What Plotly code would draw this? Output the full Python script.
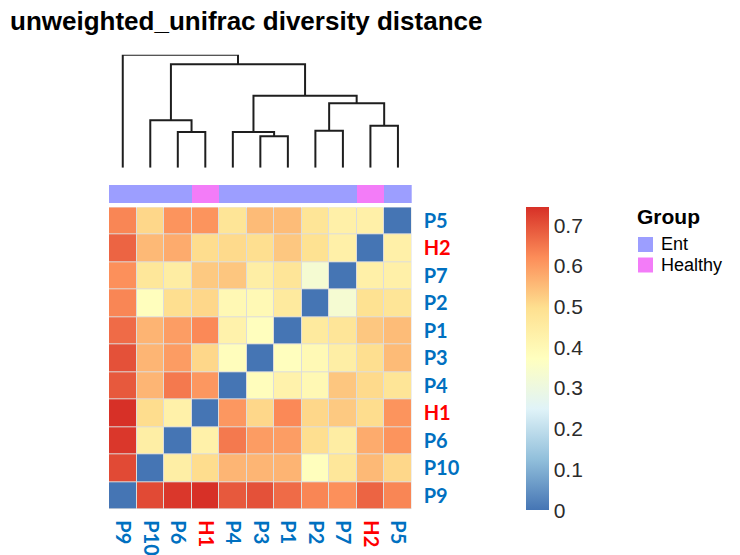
import plotly.graph_objects as go

# Samples in clustered order (columns left->right, rows bottom->top)
labels = ["P9", "P10", "P6", "H1", "P4", "P3", "P1", "P2", "P7", "H2", "P5"]
groups = ["Ent", "Ent", "Ent", "Healthy", "Ent", "Ent", "Ent", "Ent", "Ent", "Healthy", "Ent"]
group_names = ["Ent", "Healthy"]
group_colors = ["#9C9EFF", "#F37CF8"]
label_colors = {"Ent": "#0070C0", "Healthy": "#FF0000"}

# Pairwise unweighted UniFrac distances (same order as labels)
distances = [
    #  P9     P10    P6     H1     P4     P3     P1     P2     P7     H2     P5
    [0.000, 0.710, 0.735, 0.744, 0.690, 0.700, 0.665, 0.630, 0.615, 0.675, 0.630],  # P9
    [0.710, 0.000, 0.440, 0.500, 0.560, 0.560, 0.562, 0.378, 0.470, 0.555, 0.510],  # P10
    [0.735, 0.440, 0.000, 0.430, 0.647, 0.598, 0.596, 0.497, 0.445, 0.575, 0.610],  # P6
    [0.744, 0.500, 0.430, 0.000, 0.605, 0.510, 0.625, 0.510, 0.530, 0.500, 0.610],  # H1
    [0.690, 0.560, 0.647, 0.605, 0.000, 0.380, 0.425, 0.400, 0.535, 0.505, 0.478],  # P4
    [0.700, 0.560, 0.598, 0.510, 0.380, 0.000, 0.375, 0.398, 0.440, 0.497, 0.552],  # P3
    [0.665, 0.562, 0.596, 0.625, 0.425, 0.375, 0.000, 0.458, 0.475, 0.533, 0.550],  # P1
    [0.630, 0.378, 0.497, 0.510, 0.400, 0.398, 0.458, 0.000, 0.330, 0.490, 0.478],  # P2
    [0.615, 0.470, 0.445, 0.530, 0.535, 0.440, 0.475, 0.330, 0.000, 0.432, 0.432],  # P7
    [0.675, 0.555, 0.575, 0.500, 0.505, 0.497, 0.533, 0.490, 0.432, 0.000, 0.432],  # H2
    [0.630, 0.510, 0.610, 0.610, 0.478, 0.552, 0.550, 0.478, 0.432, 0.432, 0.000],  # P5
]

# Hierarchical clustering steps: nodes 0-10 are leaves, merge k creates node 11+k
link_left = [2, 5, 4, 7, 9, 1, 14, 13, 16, 0]
link_right = [3, 6, 12, 8, 10, 11, 15, 17, 18, 19]
link_height = [0.357, 0.314, 0.357, 0.370, 0.420, 0.474, 0.644, 0.720, 1.034, 1.130]

colorbar_ticks = [0, 0.1, 0.2, 0.3, 0.4, 0.5, 0.6, 0.7]

W, H = 740, 555


def fx(px):
    return px / W


def fy(py):
    return 1 - py / H


n = len(labels)
idx = list(range(n))

# RdYlBu (7 classes), reversed
scale_cols = ["#4575B4", "#91BFDB", "#E0F3F8", "#FFFFBF", "#FEE090", "#FC8D59", "#D73027"]
colorscale = [[i / (len(scale_cols) - 1), c] for i, c in enumerate(scale_cols)]
zmax = max(max(r) for r in distances)

tick_text = [
    f'<span style="color:{label_colors[g]}"><b>{lab}</b></span>' for lab, g in zip(labels, groups)
]

fig = go.Figure()

fig.add_trace(go.Heatmap(
    z=distances, x=idx, y=idx,
    colorscale=colorscale, zmin=0, zmax=zmax,
    xgap=1, ygap=1,
    xaxis="x", yaxis="y",
    hoverinfo="skip",
    colorbar=dict(
        x=fx(525.7), xanchor="left", xpad=0,
        y=fy(207.3), yanchor="top", ypad=0,
        lenmode="pixels", len=303,
        thickness=23, outlinewidth=0,
        tickvals=colorbar_ticks,
        ticktext=[f"{v:g}" for v in colorbar_ticks],
        ticks="", ticklabelposition="outside",
        tickfont=dict(family="Liberation Sans", size=21, color="#2b2b2b"),
    ),
))

# Group annotation strip above the heatmap
fig.add_trace(go.Heatmap(
    z=[[group_names.index(g) for g in groups]], x=idx, y=[0],
    colorscale=[[0, group_colors[0]], [0.5, group_colors[0]],
                [0.5, group_colors[1]], [1, group_colors[1]]],
    zmin=0, zmax=1, showscale=False,
    xaxis="x", yaxis="y2", hoverinfo="skip",
))

# Column dendrogram
node_x = {i: float(i) for i in idx}
node_h = {i: 0.0 for i in idx}
dx, dy = [], []
for k, (a, b, h) in enumerate(zip(link_left, link_right, link_height)):
    xa, xb = node_x[a], node_x[b]
    dx += [xa, xa, xb, xb, None]
    dy += [node_h[a], h, h, node_h[b], None]
    node_x[n + k] = (xa + xb) / 2
    node_h[n + k] = h

fig.add_trace(go.Scatter(
    x=dx, y=dy, mode="lines",
    line=dict(color="#1e1e1e", width=2),
    xaxis="x", yaxis="y3", hoverinfo="skip", showlegend=False,
))

label_font = dict(family="Lato", size=20)

fig.update_layout(
    width=W, height=H,
    margin=dict(l=0, r=0, t=0, b=0),
    paper_bgcolor="white", plot_bgcolor="white",
    showlegend=False,
    title=dict(
        text="<b>unweighted_unifrac diversity distance</b>",
        x=fx(10), xanchor="left", xref="paper",
        y=fy(21), yanchor="middle", yref="container",
        font=dict(family="Liberation Sans", size=26, color="black"),
    ),
    xaxis=dict(
        domain=[fx(109), fx(411.7)], range=[-0.5, n - 0.5], anchor="y",
        tickvals=idx, ticktext=tick_text, tickangle=90,
        ticks="", ticklabelstandoff=10, tickfont=label_font,
        showgrid=False, zeroline=False, showline=False,
    ),
    yaxis=dict(
        domain=[fy(509.3), fy(207.3)], range=[-0.5, n - 0.5], anchor="x",
        side="right", tickvals=idx, ticktext=tick_text,
        ticks="", ticklabelstandoff=11, tickfont=label_font,
        showgrid=False, zeroline=False, showline=False,
    ),
    yaxis2=dict(
        domain=[fy(203.3), fy(185)], range=[-0.5, 0.5], anchor="x", visible=False,
    ),
    yaxis3=dict(
        domain=[fy(167.7), fy(54.7)], range=[0, max(link_height)], anchor="x", visible=False,
    ),
)

# Light cell borders showing through the heatmap gaps
fig.add_shape(type="rect", xref="x", yref="y", x0=-0.5, x1=n - 0.5, y0=-0.5, y1=n - 0.5,
              fillcolor="#dcdcdc", line=dict(width=0), layer="below")

# Group legend
fig.add_annotation(x=fx(636), y=fy(216), xref="paper", yref="paper", xanchor="left", yanchor="middle",
                   text="<b>Group</b>", showarrow=False, borderpad=0,
                   font=dict(family="Liberation Sans", size=21, color="black"))
for i, (name, col) in enumerate(zip(group_names, group_colors)):
    top = 237 + 20.5 * i
    fig.add_shape(type="rect", xref="paper", yref="paper",
                  x0=fx(638), x1=fx(653), y0=fy(top + 15), y1=fy(top),
                  fillcolor=col, line=dict(width=0))
    fig.add_annotation(x=fx(660), y=fy(top + 7.5), xref="paper", yref="paper",
                       xanchor="left", yanchor="middle", text=name, showarrow=False,
                       borderpad=0,
                       font=dict(family="Liberation Sans", size=18, color="black"))

fig.write_html("out.html")
